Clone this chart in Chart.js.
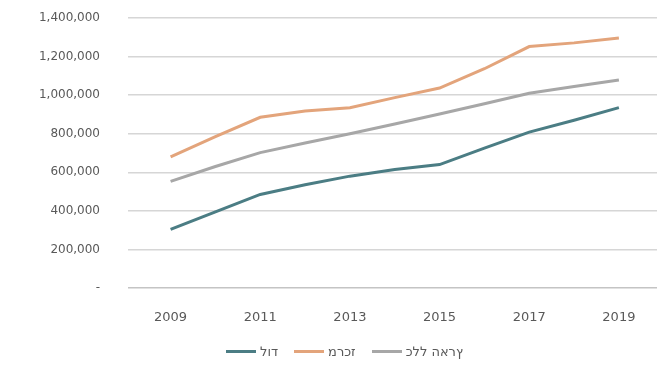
<!DOCTYPE html>
<html>
<head>
<meta charset="utf-8">
<script src="https://cdn.jsdelivr.net/npm/chart.js@4/dist/chart.umd.min.js"></script>
<style>
  html, body { margin: 0; padding: 0; background: #fff; }
  #wrap { position: relative; width: 657px; height: 381px; }
  #legend { position: absolute; left: 32px; right: 0; top: 344px; display: flex; justify-content: center;
            font: 13px 'DejaVu Sans', 'Open Sans', sans-serif; color: #595959; }
  #legend .item { display: flex; align-items: center; margin: 0 8px; }
  #legend .sw { display: inline-block; width: 30px; height: 3px; margin-right: 4px; }
  /* the source picture shows the hebrew names in left-to-right glyph order */
  #legend .txt { unicode-bidi: bidi-override; direction: ltr; }
</style>
</head>
<body>
<div id="wrap"><canvas id="chart"></canvas><div id="legend"></div></div>
<script>
const years = [2009, 2010, 2011, 2012, 2013, 2014, 2015, 2016, 2017, 2018, 2019];
const tickYears = [2009, 2011, 2013, 2015, 2017, 2019];
const yTicks = [0, 200000, 400000, 600000, 800000, 1000000, 1200000, 1400000];

const lod = [304000, 395000, 485000, 535000, 580000, 615000, 640000, 725000, 808000, 870000, 935000];
const center = [680000, 785000, 885000, 918000, 935000, 987000, 1037000, 1137000, 1252000, 1271000, 1296000];
const national = [553000, 630000, 702000, 752000, 800000, 850000, 902000, 955000, 1010000, 1045000, 1078000];

const seriesNames = ['לוד', 'מרכז', 'כלל הארץ'];
const seriesColors = ['#4b7d84', '#e3a47b', '#a7a7a7'];

function toPoints(arr) {
  return arr.map((v, i) => ({ x: years[i], y: v }));
}

const fontFamily = "'DejaVu Sans', 'Open Sans', sans-serif";

// html legend, built from the chart's own legend items
const htmlLegend = {
  id: 'htmlLegend',
  afterUpdate(chart) {
    const box = document.getElementById('legend');
    box.innerHTML = '';
    const items = chart.options.plugins.legend.labels.generateLabels(chart);
    items.forEach(it => {
      const el = document.createElement('span');
      el.className = 'item';
      const sw = document.createElement('span');
      sw.className = 'sw';
      sw.style.background = it.strokeStyle;
      const txt = document.createElement('span');
      txt.className = 'txt';
      txt.textContent = it.text;
      el.appendChild(sw);
      el.appendChild(txt);
      box.appendChild(el);
    });
  }
};

new Chart(document.getElementById('chart'), {
  type: 'line',
  data: {
    datasets: [lod, center, national].map((arr, i) => ({
      label: seriesNames[i],
      data: toPoints(arr),
      borderColor: seriesColors[i],
      backgroundColor: seriesColors[i],
      borderWidth: 3,
      pointRadius: 0,
      tension: 0
    }))
  },
  plugins: [htmlLegend],
  options: {
    responsive: true,
    maintainAspectRatio: false,
    animation: false,
    layout: { padding: { top: 18, right: 0, bottom: 42, left: 0 } },
    plugins: {
      tooltip: { enabled: false },
      legend: { display: false }
    },
    scales: {
      x: {
        type: 'linear',
        min: 2008.05,
        max: 2019.85,
        grid: { display: false },
        border: { display: false },
        afterBuildTicks: s => { s.ticks = tickYears.map(v => ({ value: v })); },
        afterFit: s => { s.height = 51; },
        ticks: {
          padding: 14,
          color: '#595959',
          font: { family: fontFamily, size: 13 },
          maxRotation: 0,
          autoSkip: false,
          callback: v => String(v)
        }
      },
      y: {
        min: 0,
        max: 1400000,
        afterBuildTicks: s => { s.ticks = yTicks.map(v => ({ value: v })); },
        afterFit: s => { s.width = 128; },
        grid: {
          color: ctx => ctx.tick && ctx.tick.value === 0 ? '#c4c4c4' : '#d6d6d6',
          lineWidth: 1.5,
          drawTicks: true,
          tickLength: 28,
          tickColor: 'rgba(0,0,0,0)'
        },
        border: { display: false },
        ticks: {
          padding: 0,
          color: '#595959',
          font: { family: fontFamily, size: 12 },
          callback: v => v === 0 ? '-' : v.toLocaleString('en-US')
        }
      }
    }
  }
});
</script>
</body>
</html>
